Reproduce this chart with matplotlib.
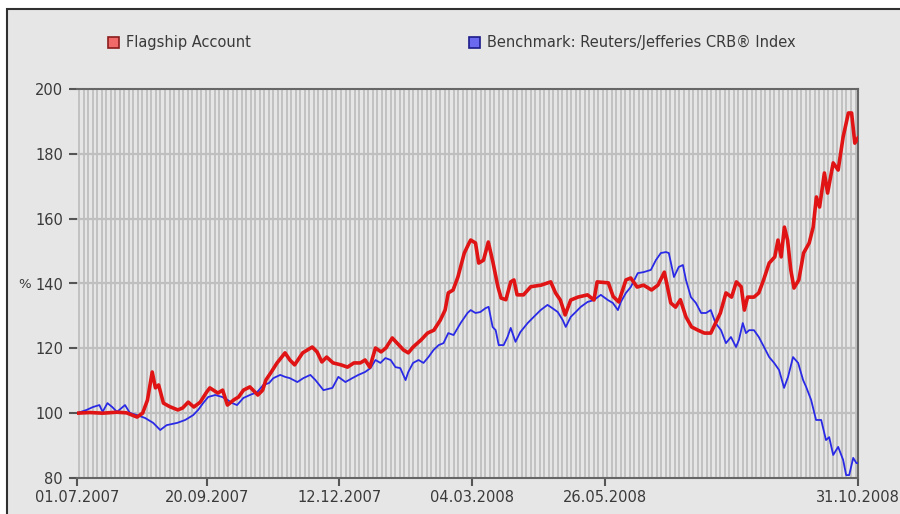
import numpy as np
import matplotlib
matplotlib.use('Agg')
import matplotlib.pyplot as plt
from matplotlib.patches import Rectangle

# days since 01.07.2007, value in %
flagship_days = [0, 8, 16, 25, 31, 37.5, 41, 44, 47, 49, 51, 54, 58, 63, 66, 69.5, 73, 77, 81, 83,
                 88, 91, 94, 98, 101, 104, 108, 113, 116, 118, 121, 125, 130, 133, 136, 141, 147, 150, 153, 156,
                 160, 165, 169, 173, 177, 180, 183, 186.5, 190, 193, 197, 200, 204, 207, 210, 215, 219, 223, 227, 230,
                 232, 235, 238, 242, 245, 246, 249, 251, 254, 257, 260, 263, 265, 268, 271, 273, 275, 279, 283.5, 290,
                 296, 299, 302, 305, 308.5, 313, 319, 323, 325, 332, 335, 338.5, 343, 346, 350, 354, 359, 363, 367, 371,
                 374, 377, 380.5, 384, 388, 392, 396, 399, 402, 405.5, 409, 412, 415, 417, 419, 423, 426, 429, 432.5, 436,
                 438, 440, 442, 444, 446, 448, 451, 454, 457.5, 460, 462, 464, 467, 469, 472.5, 475.6, 478.7, 482, 484, 486,
                 488]
flagship_vals = [100, 100.2, 100, 100.3, 100.1, 98.8, 100, 104, 112.7, 107.8, 108.7, 103.1, 102, 101, 101.6, 103.4, 101.9, 103.4, 106.5, 107.8,
                 106.2, 107.1, 102.5, 104.1, 105, 107.1, 108.1, 105.6, 107.1, 110.2, 112.4, 115.5, 118.6, 116.4, 114.9, 118.6, 120.4, 118.9, 115.8, 117.3,
                 115.5, 114.9, 114.2, 115.5, 115.5, 116.4, 114.2, 120.1, 118.9, 120.1, 123.2, 121.6, 119.5, 118.6, 120.4, 122.6, 124.7, 125.6, 128.7, 131.8,
                 137.1, 138.0, 142.0, 149.4, 152.5, 153.4, 152.5, 146.3, 147.2, 152.8, 146.3, 139, 135.5, 135, 140.5, 141.1, 136.5, 136.5, 139, 139.5,
                 140.5, 137.1, 134.9, 130.3, 134.9, 135.8, 136.5, 134.9, 140.5, 140.2, 136, 134.3, 141.1, 141.7, 138.9, 139.5, 138, 139.5, 143.5, 134,
                 132.7, 135, 129.7, 126.6, 125.6, 124.7, 124.7, 127.8, 130.9, 137.1, 135.8, 140.5, 139, 131.8, 135.8, 135.8, 137.1, 141.1, 146.3, 148.2,
                 153.4, 148.2, 157.4, 153.4, 144.2, 138.6, 141.1, 149.4, 152.5, 157.4, 166.7, 163.6, 174.1, 167.9, 177.2, 175, 185.2, 192.6, 192.6, 183.3,
                 184.9]

bench_days = [0, 6, 10, 14, 16, 19, 22, 25, 30, 33, 37.5, 42.6, 47.6, 52, 56, 62.6, 67.6, 72.6, 75.7, 78.8,
              82, 86.4, 90.7, 94, 97, 100, 104, 108, 112.6, 116.4, 120, 122.7, 127, 130, 133, 137.7, 141.4, 145.8, 149, 154,
              159.6, 163.3, 167.7, 172, 175.8, 180, 183.4, 186.5, 189.6, 192.7, 196, 199, 202, 205.3, 207, 210, 213.4, 216.5, 219.6, 222.8,
              226, 229, 232, 235.3, 239.7, 244, 246, 249, 252, 255.3, 257.2, 259.7, 261.6, 263.5, 266.6, 269, 271, 274, 277, 281.6,
              285.4, 289.7, 294, 297, 300.4, 303.5, 305.4, 308.5, 311.6, 314.8, 319, 323, 327.3, 331.7, 334.8, 338, 339.8, 343, 346, 350.4,
              354, 358.6, 361.7, 364.8, 368, 369.8, 373, 376, 378.6, 380.5, 383.6, 386.7, 390, 393, 396, 399, 402.4, 405.5, 408.6, 411.8,
              413.6, 416, 418, 420, 423, 426, 429.3, 432.5, 435.6, 438.7, 441.8, 444.3, 447.4, 450.6, 453.7, 455.6, 458.7, 461.8, 465, 468,
              470, 472.5, 475.6, 478.7, 480.6, 482.5, 485, 487, 488]
bench_vals = [100, 101.0, 101.9, 102.5, 100.4, 103.1, 101.9, 100.4, 102.5, 100.1, 99.4, 98.5, 97.0, 94.8, 96.3, 97.0, 97.9, 99.4, 101.0, 103.1,
              105.0, 105.6, 105.0, 104.1, 103.1, 102.5, 104.7, 105.6, 106.5, 108.7, 109.3, 110.8, 111.8, 111.2, 110.8, 109.6, 110.8, 111.8, 110.2, 107.1,
              107.8, 111.2, 109.6, 110.8, 111.8, 112.7, 113.9, 116.4, 115.5, 117.0, 116.4, 114.2, 113.9, 110.2, 112.7, 115.5, 116.4, 115.5, 117.3, 119.5,
              121.0, 121.6, 124.7, 124.1, 127.8, 130.9, 131.8, 130.9, 131.2, 132.4, 132.8, 126.6, 125.6, 121.0, 121.0, 123.5, 126.3, 122.0, 125.0, 127.8,
              129.7, 131.8, 133.4, 132.4, 131.2, 128.7, 126.6, 129.7, 131.2, 132.8, 134.3, 134.9, 136.5, 134.9, 134.0, 131.8, 134.3, 137.1, 138.9, 143.2,
              143.5, 144.2, 147.2, 149.4, 149.7, 149.4, 142.0, 145.1, 145.7, 141.1, 135.8, 134.0, 130.9, 130.9, 131.8, 127.8, 125.6, 121.6, 123.5, 120.4,
              122.6, 127.8, 124.7, 125.6, 125.6, 123.5, 120.4, 117.3, 115.5, 113.3, 107.8, 111.2, 117.3, 115.5, 110.2, 108.1, 104.1, 97.9, 97.9, 91.7,
              92.6, 87.1, 89.6, 85.6, 80.9, 80.9, 86.2, 84.6, 84.6]

tick_days = [0, 81, 164, 247, 330, 488]
tick_labels = ['01.07.2007', '20.09.2007', '12.12.2007', '04.03.2008', '26.05.2008', '31.10.2008']
y_ticks = [80, 100, 120, 140, 160, 180, 200]

bg = '#e6e6e6'
grid_c = '#bfbfbf'
txt_c = '#3a3a3a'

fig = plt.figure(figsize=(9, 5.14), dpi=100)
fig.patch.set_facecolor('white')
fig.add_artist(Rectangle((7 / 900, -0.1), 1.2, 1 - 9 / 514 + 0.1, transform=fig.transFigure,
                         facecolor=bg, edgecolor='#303030', lw=1.5, zorder=0))

ax = fig.add_axes([77 / 900, 36 / 514, 781 / 900, 389 / 514])
ax.set_facecolor(bg)

# dense vertical grid
for gx in np.arange(1.4, 488, 2.82):
    ax.axvline(gx, color=grid_c, lw=1.3, zorder=1)
for gy in y_ticks[1:-1]:
    ax.axhline(gy, color=grid_c, lw=1.6, zorder=1)

ax.plot(bench_days, bench_vals, color='#2a2ae6', lw=1.3, zorder=3)
ax.plot(flagship_days, flagship_vals, color='#e01414', lw=2.6, zorder=4)

ax.set_xlim(0, 488)
ax.set_ylim(80, 200)
ax.set_yticks(y_ticks)
ax.set_xticks(tick_days)
ax.set_xticklabels(tick_labels)
ax.tick_params(axis='both', colors='#555555', labelcolor=txt_c, labelsize=10.5, length=6, width=1.5)
ax.tick_params(axis='x', pad=3)
ax.tick_params(axis='y', pad=4)
ax.spines['left'].set_visible(False)
for s in ['top', 'right', 'bottom']:
    ax.spines[s].set_color('#666666')
    ax.spines[s].set_linewidth(1.5)

fig.text(25 / 900, 1 - 284 / 514, '%', ha='center', va='center', fontsize=9.5, color=txt_c)

# legend
fig.add_artist(Rectangle((108 / 900, 1 - 48 / 514), 11 / 900, 11 / 514, transform=fig.transFigure,
                         facecolor='#f06a6a', edgecolor='#8a1c1c', lw=1.2))
fig.text(126 / 900, 1 - 42 / 514, 'Flagship Account', ha='left', va='center', fontsize=10.5, color=txt_c)
fig.add_artist(Rectangle((469 / 900, 1 - 48 / 514), 11 / 900, 11 / 514, transform=fig.transFigure,
                         facecolor='#6a6af0', edgecolor='#1c1c8a', lw=1.2))
fig.text(487 / 900, 1 - 42 / 514, 'Benchmark: Reuters/Jefferies CRB\u00ae Index', ha='left', va='center',
         fontsize=10.5, color=txt_c)

fig.savefig('out.png', dpi=100, facecolor=fig.get_facecolor())
